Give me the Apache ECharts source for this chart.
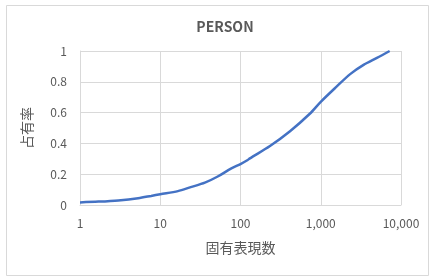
<!DOCTYPE html>
<html>
<head>
<meta charset="utf-8">
<script src="https://cdn.jsdelivr.net/npm/echarts@6/dist/echarts.min.js"></script>
<style>
  html, body { margin: 0; padding: 0; background: #fff; }
  #chart { width: 431px; height: 279px; }
</style>
</head>
<body>
<div id="chart"></div>
<script>
// 固有表現数 (log) と 占有率
var titleText = "PERSON";
var xName = "固有表現数";
var yName = "占有率";
var counts = [1, 1.7, 3, 5.3, 7.7, 10, 16.6, 24, 36, 52, 77, 100, 123, 131, 233, 414, 736, 1000, 1585, 2326, 3415, 5012, 7220];
var shares = [0.017, 0.022, 0.03, 0.044, 0.059, 0.07, 0.09, 0.116, 0.145, 0.185, 0.238, 0.266, 0.292, 0.303, 0.383, 0.479, 0.594, 0.67, 0.77, 0.85, 0.91, 0.955, 1.0];
var yTicks = [0, 0.2, 0.4, 0.6, 0.8, 1];

var textColor = "#595959";
var fontJP = "'Noto Sans CJK JP', 'Noto Sans', sans-serif";

var points = counts.map(function (c, i) { return [c, shares[i]]; });

var ECharts = {
    Draw: function (option, id) {
        var myChart = echarts.init(document.getElementById(id));
        if (option && typeof option === "object") {
            myChart.setOption(option, true);
        }
        return myChart;
    }
};

var option = {
    animation: false,
    backgroundColor: "#fff",
    title: {
        text: titleText,
        left: 220,
        textAlign: "center",
        top: 15,
        textStyle: { color: textColor, fontSize: 14, fontWeight: "bold", fontFamily: fontJP }
    },
    graphic: [{
        type: "rect",
        shape: { x: 6.5, y: 5.5, width: 422, height: 270 },
        style: { fill: "none", stroke: "#d9d9d9", lineWidth: 1 },
        silent: true
    }],
    grid: { left: 80, right: 30, top: 51, bottom: 74, containLabel: false, outerBoundsMode: "none" },
    xAxis: {
        type: "log",
        logBase: 10,
        min: 1,
        max: 10000,
        name: xName,
        nameLocation: "middle",
        nameGap: 36,
        nameTextStyle: { color: textColor, fontSize: 14, fontFamily: fontJP },
        axisLine: { show: true, lineStyle: { color: "#d9d9d9" } },
        axisTick: { show: false },
        axisLabel: {
            color: textColor, fontSize: 12, fontFamily: fontJP, margin: 12,
            formatter: function (v) { return Math.round(v).toLocaleString("en-US"); }
        },
        splitLine: { show: true, lineStyle: { color: "#d9d9d9" } },
        minorTick: { show: false },
        minorSplitLine: { show: false }
    },
    yAxis: {
        type: "value",
        min: 0,
        max: 1,
        interval: 0.2,
        name: yName,
        nameLocation: "middle",
        nameGap: 46,
        nameTextStyle: { color: textColor, fontSize: 14, fontFamily: fontJP },
        axisLine: { show: true, lineStyle: { color: "#d9d9d9" } },
        axisTick: { show: false },
        axisLabel: {
            color: textColor, fontSize: 12, fontFamily: fontJP, margin: 13,
            formatter: function (v) {
                var t = yTicks.find(function (k) { return Math.abs(k - v) < 1e-9; });
                return t === undefined ? "" : String(t);
            }
        },
        splitLine: { show: true, lineStyle: { color: "#d9d9d9" } }
    },
    series: [{
        type: "line",
        data: points,
        smooth: 0.3,
        showSymbol: false,
        lineStyle: { color: "#4472C4", width: 2.5 },
        itemStyle: { color: "#4472C4" }
    }]
};

ECharts.Draw(option, "chart");
</script>
</body>
</html>
